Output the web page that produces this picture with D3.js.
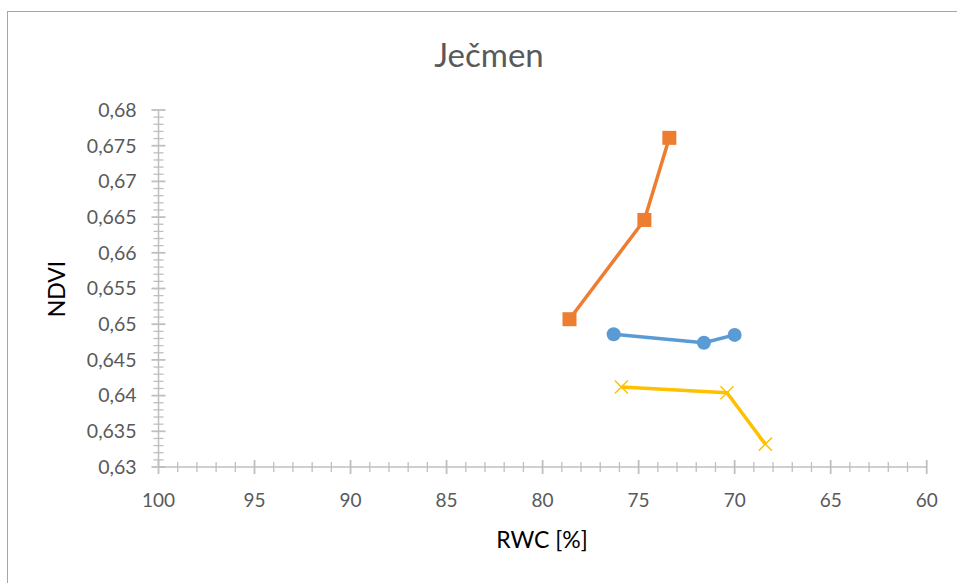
<!DOCTYPE html>
<html>
<head>
<meta charset="utf-8">
<script src="https://cdn.jsdelivr.net/npm/d3@7"></script>
<style>
  html, body { margin: 0; padding: 0; background: #fff; }
  svg { display: block; font-family: Lato, "Open Sans", sans-serif; }
</style>
</head>
<body>
<svg id="chart" width="957" height="583"></svg>
<script>
// RWC [%] and NDVI for three barley series
const seriesNames = ["A", "B", "C"];
const seriesColors = ["#5B9BD5", "#ED7D31", "#FFC000"];
const seriesMarkers = ["circle", "square", "x"];
const rwcA = [76.3, 71.6, 70.0];
const ndviA = [0.6486, 0.6474, 0.6485];
const rwcB = [78.6, 74.7, 73.4];
const ndviB = [0.6507, 0.6646, 0.6761];
const rwcC = [75.9, 70.4, 68.4];
const ndviC = [0.6412, 0.6404, 0.6332];
const xTicks = [100, 95, 90, 85, 80, 75, 70, 65, 60];
const yTicks = [0.63, 0.635, 0.64, 0.645, 0.65, 0.655, 0.66, 0.665, 0.67, 0.675, 0.68];

const series = [
  { x: rwcA, y: ndviA },
  { x: rwcB, y: ndviB },
  { x: rwcC, y: ndviC }
].map((s, i) => ({ name: seriesNames[i], color: seriesColors[i], marker: seriesMarkers[i],
  points: s.x.map((v, j) => [v, s.y[j]]) }));

const svg = d3.select("#chart");
const fmt = d => d3.format("")(d).replace(".", ",");

// outer chart frame
svg.append("rect").attr("x", 7.5).attr("y", 11.5).attr("width", 1000).attr("height", 1000)
  .attr("fill", "none").attr("stroke", "#a6a6a6").attr("stroke-width", 1);

const x = d3.scaleLinear().domain([100, 60]).range([158.5, 926.7]);
const y = d3.scaleLinear().domain([0.63, 0.68]).range([467, 110]);

const axisColor = "#bfbfbf";
const labelColor = "#595959";

// x axis: minor ticks every 1 unit crossing the line
const gx = svg.append("g").attr("transform", `translate(0,${y(0.63)})`);
gx.append("line").attr("x1", x(100)).attr("x2", x(60)).attr("stroke", axisColor).attr("stroke-width", 1.5);
gx.selectAll("line.minor").data(d3.range(60, 101, 1)).join("line")
  .attr("class", "minor")
  .attr("x1", d => x(d)).attr("x2", d => x(d))
  .attr("y1", d => d % 5 === 0 ? -7 : -5).attr("y2", d => d % 5 === 0 ? 7 : 5)
  .attr("stroke", axisColor).attr("stroke-width", d => d % 5 === 0 ? 1.8 : 1.3);
gx.selectAll("text").data(xTicks).join("text")
  .attr("x", d => x(d)).attr("y", 40)
  .attr("text-anchor", "middle").attr("fill", labelColor).attr("font-size", 19)
  .text(d => d);

// y axis: minor ticks every 0.001
const gy = svg.append("g").attr("transform", `translate(${x(100)},0)`);
gy.append("line").attr("y1", y(0.63)).attr("y2", y(0.68)).attr("stroke", axisColor).attr("stroke-width", 1.5);
gy.selectAll("line.minor").data(d3.range(0, 51)).join("line")
  .attr("class", "minor")
  .attr("y1", d => y(0.63 + d * 0.001)).attr("y2", d => y(0.63 + d * 0.001))
  .attr("x1", d => d % 5 === 0 ? -7 : -5).attr("x2", d => d % 5 === 0 ? 7 : 5)
  .attr("stroke", axisColor).attr("stroke-width", d => d % 5 === 0 ? 1.8 : 1.3);
gy.selectAll("text").data(yTicks).join("text")
  .attr("x", -22).attr("y", d => y(d)).attr("dy", "0.35em")
  .attr("text-anchor", "end").attr("fill", labelColor).attr("font-size", 19.5)
  .text(d => fmt(d));

// titles
svg.append("text").attr("x", 489).attr("y", 67).attr("text-anchor", "middle")
  .attr("fill", labelColor).attr("font-size", 33).text("Ječmen");
svg.append("text").attr("x", 542).attr("y", 548).attr("text-anchor", "middle")
  .attr("fill", "#000").attr("font-size", 23).text("RWC [%]");
svg.append("text").attr("transform", "translate(65,289) rotate(-90)").attr("text-anchor", "middle")
  .attr("fill", "#000").attr("font-size", 23).text("NDVI");

// series lines and markers
const line = d3.line().x(d => x(d[0])).y(d => y(d[1]));
const gs = svg.append("g").selectAll("g").data(series).join("g");
gs.append("path").attr("d", d => line(d.points)).attr("fill", "none")
  .attr("stroke", d => d.color).attr("stroke-width", 3.5).attr("stroke-linejoin", "round");

gs.each(function (s) {
  const g = d3.select(this);
  s.points.forEach(p => {
    const cx = x(p[0]), cy = y(p[1]);
    if (s.marker === "circle") {
      g.append("circle").attr("cx", cx).attr("cy", cy).attr("r", 7).attr("fill", s.color);
    } else if (s.marker === "square") {
      g.append("rect").attr("x", cx - 7).attr("y", cy - 7).attr("width", 14).attr("height", 14).attr("fill", s.color);
    } else {
      const r = 6.5;
      g.append("path").attr("d", `M${cx - r},${cy - r}L${cx + r},${cy + r}M${cx - r},${cy + r}L${cx + r},${cy - r}`)
        .attr("stroke", s.color).attr("stroke-width", 1.5).attr("fill", "none");
    }
  });
});
</script>
</body>
</html>
